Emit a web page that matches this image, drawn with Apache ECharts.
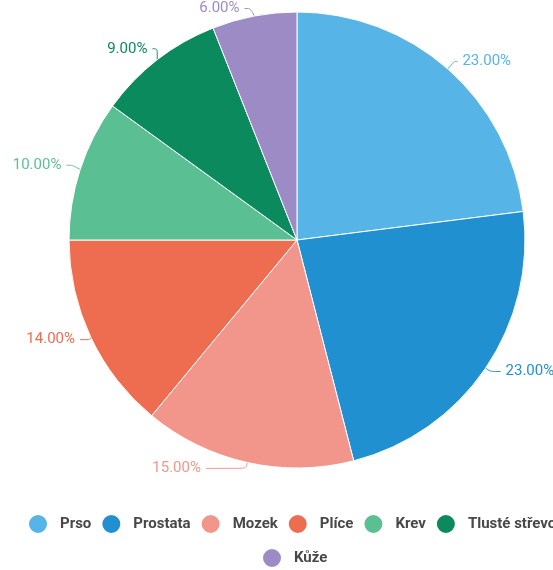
<!DOCTYPE html>
<html>
<head>
<meta charset="utf-8">
<script src="https://cdn.jsdelivr.net/npm/echarts@6/dist/echarts.min.js"></script>
<style>
  html, body { margin: 0; padding: 0; background: #ffffff; }
  #chart { width: 553px; height: 570px; }
</style>
</head>
<body>
<div id="chart"></div>
<script>
// Share of cases by site (percent)
const categories = ['Prso', 'Prostata', 'Mozek', 'Plíce', 'Krev', 'Tlusté střevo', 'Kůže'];
const shares = [23, 23, 15, 14, 10, 9, 6];
const colors = ['#56b4e6', '#2190d1', '#f2968c', '#ee6d51', '#5bbf94', '#0a8a5d', '#9c8bc5'];

// Leader line lengths per slice: [radial segment, horizontal segment]
const leaderLines = {
  'Prso': [10, 3],
  'Prostata': [6, 10],
  'Mozek': [6, 40],
  'Plíce': [6, 10],
  'Krev': [14, 6],
  'Tlusté střevo': [14, 7],
  'Kůže': [20, 6]
};

const chart = echarts.init(document.getElementById('chart'), null, { renderer: 'canvas' });

const pieData = categories.map((name, i) => ({
  name: name,
  value: shares[i],
  itemStyle: { color: colors[i] },
  label: { color: colors[i] },
  labelLine: { length: leaderLines[name][0], length2: leaderLines[name][1] }
}));

const legendText = {
  color: '#484848', fontSize: 15, fontWeight: 'bold', fontFamily: 'Roboto',
  padding: [0, 0, 0, 7]
};

chart.setOption({
  animation: false,
  backgroundColor: '#ffffff',
  legend: [
    {
      data: categories.slice(0, 6),
      left: 22,
      top: 508,
      width: 700,
      icon: 'circle',
      itemWidth: 20,
      itemHeight: 20,
      itemGap: 9,
      textStyle: legendText
    },
    {
      data: categories.slice(6),
      left: 256,
      top: 542,
      icon: 'circle',
      itemWidth: 20,
      itemHeight: 20,
      textStyle: legendText
    }
  ],
  series: [{
    type: 'pie',
    center: [297, 240],
    radius: 228,
    startAngle: 90,
    clockwise: true,
    data: pieData,
    itemStyle: { borderColor: '#ffffff', borderWidth: 1 },
    label: {
      show: true,
      position: 'outside',
      formatter: (p) => p.value.toFixed(2) + '%',
      fontSize: 15,
      fontFamily: 'Roboto',
      overflow: 'none'
    },
    labelLine: {
      show: true,
      smooth: true,
      lineStyle: { width: 1 }
    }
  }]
});
</script>
</body>
</html>
